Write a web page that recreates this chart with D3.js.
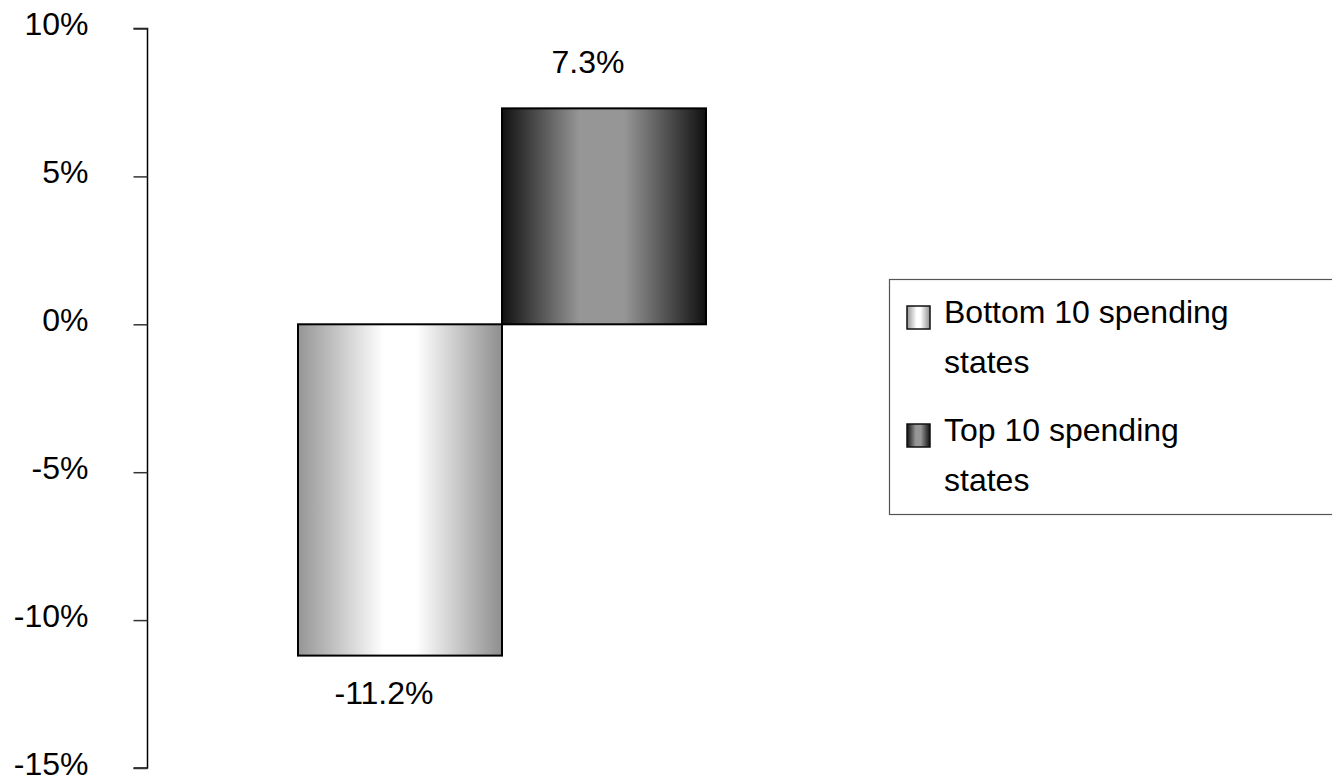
<!DOCTYPE html>
<html>
<head>
<meta charset="utf-8">
<script src="https://d3js.org/d3.v7.min.js"></script>
<style>
  html, body { margin: 0; padding: 0; background: #fff; }
  svg { display: block; font-family: "Liberation Sans", Arial, sans-serif; }
</style>
</head>
<body>
<svg id="chart" width="1332" height="779"></svg>
<script>
// Data
const seriesNames = ["Bottom 10 spending states", "Top 10 spending states"];
const seriesValues = [-11.2, 7.3];
const valueLabels = ["-11.2%", "7.3%"];
const tickValues = [-15, -10, -5, 0, 5, 10];
const tickLabels = ["-15%", "-10%", "-5%", "0%", "5%", "10%"];
const legendLines = [["Bottom 10 spending", "states"], ["Top 10 spending", "states"]];

const svg = d3.select("#chart");
const FONT = 32;

// Gradients
const defs = svg.append("defs");
function grad(id, stops) {
  const g = defs.append("linearGradient").attr("id", id)
    .attr("x1", "0%").attr("x2", "100%").attr("y1", "0%").attr("y2", "0%");
  stops.forEach(s => g.append("stop").attr("offset", s[0]).attr("stop-color", s[1]));
}
grad("gLight", [[0, "#959595"], [0.42, "#ffffff"], [0.58, "#ffffff"], [1, "#8e8e8e"]]);
grad("gDark", [[0, "#111111"], [0.38, "#969696"], [0.6, "#969696"], [1, "#111111"]]);
const fills = ["url(#gLight)", "url(#gDark)"];

// Scales
const y = d3.scaleLinear().domain([-15, 10]).range([768, 28.5]);
const x = d3.scaleBand().domain(seriesNames).range([298, 706]).padding(0);

// Axis
const axisX = 147.5;
const axis = d3.axisLeft(y).tickValues(tickValues).tickSize(14).tickPadding(0)
  .tickFormat((d) => tickLabels[tickValues.indexOf(d)]);
const gAxis = svg.append("g").attr("transform", `translate(${axisX},0)`).call(axis);
gAxis.select(".domain").attr("stroke", "#000").attr("stroke-width", 1.5)
  .attr("d", `M-14,${y(10)}H0V${y(-15)}H-14`);
gAxis.selectAll(".tick line").attr("stroke", "#333").attr("stroke-width", 1.5);
gAxis.selectAll(".tick text")
  .attr("x", -59).attr("dy", null).attr("y", 6)
  .attr("font-size", FONT).attr("font-family", "Liberation Sans, Arial, sans-serif")
  .attr("fill", "#000").attr("text-anchor", "end");

// Bars
svg.selectAll("rect.bar").data(seriesValues).enter().append("rect")
  .attr("class", "bar")
  .attr("x", (d, i) => x(seriesNames[i]))
  .attr("width", x.bandwidth())
  .attr("y", d => y(Math.max(0, d)))
  .attr("height", d => Math.abs(y(d) - y(0)))
  .attr("fill", (d, i) => fills[i])
  .attr("stroke", "#000").attr("stroke-width", 2);

// Value labels
svg.selectAll("text.val").data(seriesValues).enter().append("text")
  .attr("class", "val")
  .attr("x", (d, i) => x(seriesNames[i]) + x.bandwidth() / 2 - 16)
  .attr("y", d => d >= 0 ? y(d) - 35 : y(d) + 48)
  .attr("text-anchor", "middle")
  .attr("font-size", FONT).attr("fill", "#000")
  .text((d, i) => valueLabels[i]);

// Legend
const legend = svg.append("g");
legend.append("rect").attr("x", 889.5).attr("y", 279.5).attr("width", 460).attr("height", 235)
  .attr("fill", "#fff").attr("stroke", "#555").attr("stroke-width", 1.2);
const items = legend.selectAll("g.item").data(seriesNames).enter().append("g")
  .attr("class", "item")
  .attr("transform", (d, i) => `translate(0,${i * 118})`);
items.append("rect").attr("x", 907).attr("y", 306).attr("width", 23).attr("height", 23)
  .attr("fill", (d, i) => fills[i]).attr("stroke", "#111").attr("stroke-width", 1.5);
items.each(function(d, i) {
  const g = d3.select(this);
  legendLines[i].forEach((line, j) => {
    g.append("text").attr("x", 944).attr("y", 323 + j * 50)
      .attr("font-size", FONT).attr("fill", "#000").text(line);
  });
});
</script>
</body>
</html>
